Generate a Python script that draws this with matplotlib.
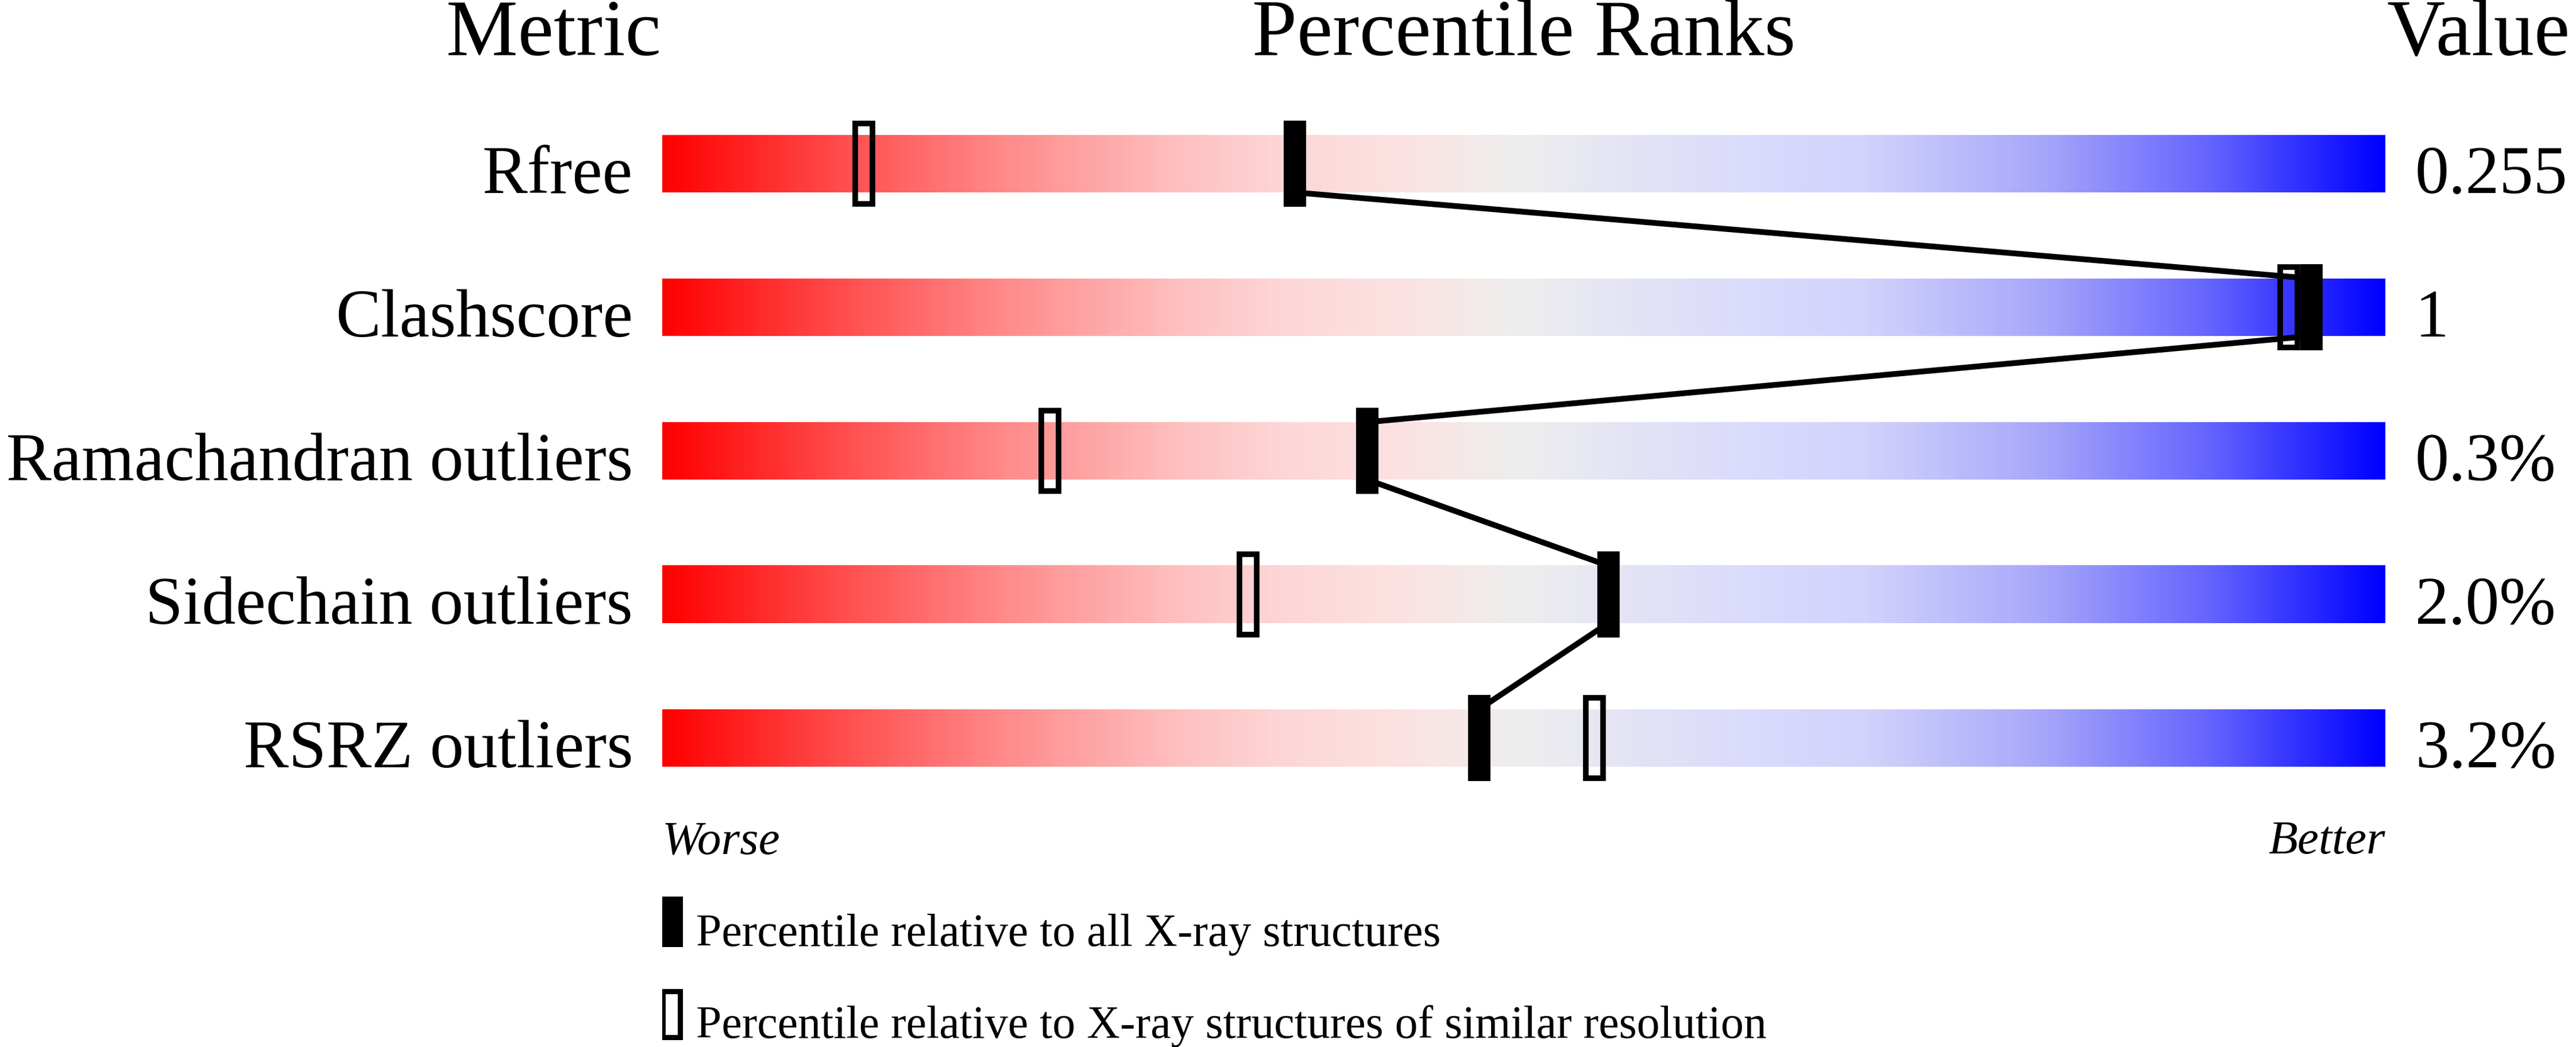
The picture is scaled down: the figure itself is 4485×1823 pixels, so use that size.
import numpy as np
import matplotlib
matplotlib.use("Agg")
import matplotlib.pyplot as plt
from matplotlib.colors import LinearSegmentedColormap
from matplotlib.patches import Rectangle

# ---- data ----
metrics = ["Rfree", "Clashscore", "Ramachandran outliers", "Sidechain outliers", "RSRZ outliers"]
values = ["0.255", "1", "0.3%", "2.0%", "3.2%"]
pct_all = [36.7, 95.7, 40.9, 54.9, 47.4]        # percentile relative to all X-ray structures
pct_similar = [11.7, 94.4, 22.5, 34.0, 54.1]    # percentile relative to similar resolution
legend_labels = ["Percentile relative to all X-ray structures",
                 "Percentile relative to X-ray structures of similar resolution"]

# ---- style ----
plt.rcParams['font.family'] = ['Liberation Serif', 'DejaVu Serif']
W, H, DPI = 4485, 1824, 100
stops = [(0.0, (255, 0, 0)), (0.1, (255, 75, 75)), (0.2, (255, 140, 140)),
         (0.3, (254, 192, 192)), (0.36, (253, 214, 214)), (0.43, (252, 226, 226)),
         (0.5, (238, 238, 238)), (0.57, (226, 226, 246)), (0.63, (219, 219, 252)),
         (0.7, (210, 210, 252)), (0.8, (168, 168, 250)), (0.9, (100, 100, 255)),
         (1.0, (0, 0, 255))]
cmap = LinearSegmentedColormap.from_list(
    "slider", [(p, tuple(c / 255 for c in rgb)) for p, rgb in stops], N=512)

fig = plt.figure(figsize=(W / DPI, H / DPI), dpi=DPI)
ax = fig.add_axes([1153 / W, 0, 3000 / W, 1])
ax.set_xlim(0, 100)
ax.set_ylim((H - 286) / 250, -286 / 250)
ax.axis('off')

bar_h = 0.4
mk_h = 0.6
mk_w = 1.3
lw_mk = 7.0
grad = np.linspace(0, 1, 600).reshape(1, -1)

for i, (m, v) in enumerate(zip(metrics, values)):
    ax.imshow(grad, cmap=cmap, aspect='auto', interpolation='bilinear',
              extent=(0, 100, i + bar_h / 2, i - bar_h / 2), zorder=1)
    ax.text(-1.7, i + bar_h / 2, m, ha='right', va='baseline', fontsize=85)
    ax.text(101.73, i + bar_h / 2, v, ha='left', va='baseline', fontsize=85)

# connecting line between "all" markers
for i in range(len(pct_all) - 1):
    ax.plot([pct_all[i], pct_all[i + 1]], [i + bar_h / 2, i + 1 - bar_h / 2],
            color='black', lw=7.2, solid_capstyle='butt', zorder=2)

# open markers (similar resolution)
ow = mk_w - 0.32
oh = mk_h - 0.04
for i, p in enumerate(pct_similar):
    ax.add_patch(Rectangle((p - ow / 2, i - oh / 2), ow, oh, fill=False,
                           edgecolor='black', lw=lw_mk, zorder=3))
# filled markers (all structures)
for i, p in enumerate(pct_all):
    ax.add_patch(Rectangle((p - mk_w / 2, i - mk_h / 2), mk_w, mk_h,
                           facecolor='black', edgecolor='none', zorder=4))

# headers
ax.text(-0.07, -0.76, "Metric", ha='right', va='baseline', fontsize=101)
ax.text(50, -0.76, "Percentile Ranks", ha='center', va='baseline', fontsize=101)
ax.text(100.07, -0.76, "Value", ha='left', va='baseline', fontsize=101)

# worse / better
ax.text(0, 4.804, "Worse", ha='left', va='baseline', fontsize=60, style='italic')
ax.text(100, 4.80, "Better", ha='right', va='baseline', fontsize=60, style='italic')

# legend
ax.add_patch(Rectangle((-0.13, 5.104), 1.33, 0.352, facecolor='black', edgecolor='none'))
ax.add_patch(Rectangle((0.017, 5.762), 1.0, 0.32, fill=False, edgecolor='black', lw=6.5))
ax.text(1.97, 5.444, legend_labels[0], ha='left', va='baseline', fontsize=57.5)
ax.text(1.97, 6.084, legend_labels[1], ha='left', va='baseline', fontsize=57.5)

fig.savefig("out.png", dpi=DPI)
